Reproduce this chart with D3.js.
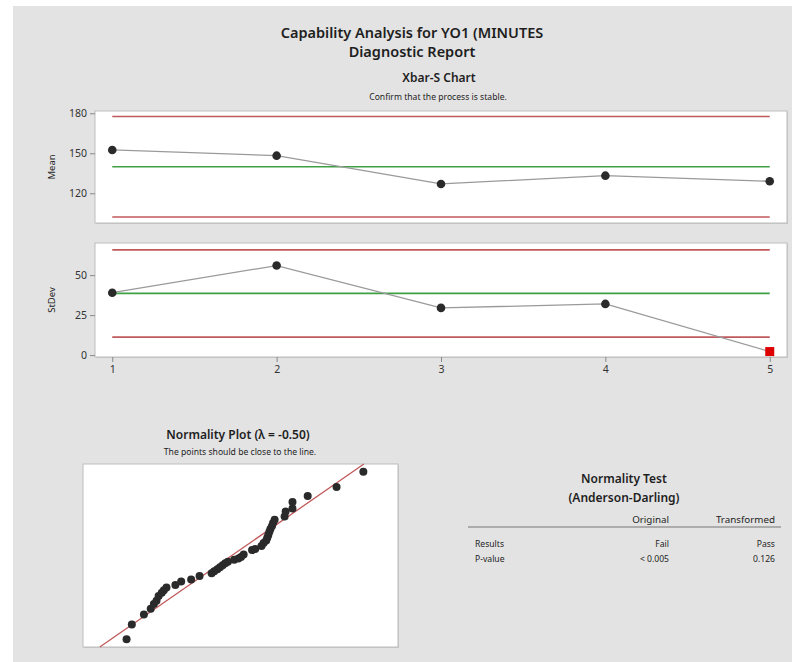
<!DOCTYPE html>
<html lang="en">
<head>
<meta charset="utf-8">
<title>Capability Analysis - Diagnostic Report</title>
<style>
  body { margin: 0; background: #fff; }
  svg { display: block; font-family: "Noto Sans", "Open Sans", sans-serif; }
</style>
<script src="https://d3js.org/d3.v7.min.js"></script>
</head>
<body>
<script>
// ---- data ----
let subgroups = [1, 2, 3, 4, 5]
let means = [152.5, 148.2, 127.0, 133.2, 129.0]
let meanLimits = { ucl: 177.6, cl: 139.9, lcl: 102.2 }
let stdevs = [39.0, 56.0, 29.5, 32.0, 2.2]
let sdLimits = { ucl: 65.8, cl: 38.6, lcl: 11.2 }
let meanTicks = [120, 150, 180]
let sdTicks = [0, 25, 50]

// normality plot: transformed value (standardised) vs normal score
let npX = [-2.17, -2.07, -1.84, -1.71, -1.65, -1.60, -1.56, -1.50, -1.46, -1.41,
           -1.24, -1.13, -0.94, -0.78, -0.55, -0.50, -0.44, -0.39, -0.34, -0.29,
           -0.24, -0.12, -0.04, 0.01, 0.06, 0.22, 0.28, 0.40, 0.44, 0.49,
           0.51, 0.53, 0.55, 0.57, 0.60, 0.62, 0.65, 0.84, 0.86, 0.99,
           0.99, 1.28, 1.83, 2.34]
let npZ = [-2.30, -1.89, -1.62, -1.46, -1.33, -1.24, -1.11, -1.02, -0.95, -0.88,
           -0.81, -0.71, -0.66, -0.56, -0.49, -0.43, -0.38, -0.32, -0.27, -0.21,
           -0.17, -0.12, -0.08, -0.04, 0.03, 0.15, 0.18, 0.26, 0.34, 0.41,
           0.49, 0.56, 0.65, 0.73, 0.81, 0.89, 0.98, 1.07, 1.21, 1.29,
           1.47, 1.63, 1.88, 2.30]
let fitLineX = [-2.68, 2.35]
let fitLineZ = [-2.51, 2.51]

let testCols = ["Original", "Transformed"]
let testRows = [
  ["Results", "Fail", "Pass"],
  ["P-value", "< 0.005", "0.126"]
]

// ---- drawing ----
let width = 792
let height = 662
let red = "#c0595b"
let green = "#3f9f45"
let ink = "#2a2a2a"

let svg = d3.select("body").append("svg")
  .attr("width", width)
  .attr("height", height)

svg.append("rect")
  .attr("x", 13).attr("y", 6)
  .attr("width", width - 13).attr("height", height - 6)
  .attr("fill", "#e3e3e3")

let txt = (x, y, s, size, opts = {}) => {
  return svg.append("text")
    .attr("x", x).attr("y", y)
    .attr("text-anchor", opts.anchor || "middle")
    .attr("font-size", size)
    .attr("font-weight", opts.weight || "normal")
    .attr("fill", opts.fill || "#1e1e1e")
    .text(s)
}

txt(412, 38, "Capability Analysis for YO1 (MINUTES", 14.5, { weight: 600 })
txt(412, 57, "Diagnostic Report", 14.5, { weight: 600 })
txt(439, 82, "Xbar-S Chart", 12, { weight: 600 })
txt(438, 100, "Confirm that the process is stable.", 8.6)

let x = d3.scaleLinear().domain([0.895, 5.105]).range([95, 787])

let panel = (y, vals, lim, ticks, label, lastFlag) => {
  let [y1, y0] = y.range()
  let g = svg.append("g")
  g.append("rect")
    .attr("x", x.range()[0] + 1).attr("y", y0 + 1)
    .attr("width", x.range()[1] - x.range()[0]).attr("height", y1 - y0)
    .attr("fill", "#c9c9c9")
  g.append("rect")
    .attr("x", x.range()[0]).attr("y", y0)
    .attr("width", x.range()[1] - x.range()[0]).attr("height", y1 - y0)
    .attr("fill", "#fff").attr("stroke", "#bdbdbd")

  let limLines = [[lim.ucl, red], [lim.cl, green], [lim.lcl, red]]
  limLines.forEach(([v, c]) => {
    g.append("line")
      .attr("x1", x(subgroups[0])).attr("x2", x(subgroups[subgroups.length - 1]))
      .attr("y1", y(v)).attr("y2", y(v))
      .attr("stroke", c).attr("stroke-width", 1.6)
  })

  g.append("path")
    .datum(vals)
    .attr("fill", "none")
    .attr("stroke", "#9a9a9a")
    .attr("stroke-width", 1.3)
    .attr("d", d3.line().x((d, i) => x(subgroups[i])).y(d => y(d)))

  g.selectAll("circle")
    .data(vals.filter((d, i) => !(lastFlag && i === vals.length - 1)))
    .join("circle")
    .attr("cx", (d, i) => x(subgroups[i]))
    .attr("cy", d => y(d))
    .attr("r", 4.3)
    .attr("fill", ink)

  if (lastFlag) {
    let i = vals.length - 1
    g.append("rect")
      .attr("x", x(subgroups[i]) - 4.5).attr("y", y(vals[i]) - 4.5)
      .attr("width", 9).attr("height", 9)
      .attr("fill", "#dd0000")
  }

  let ax = g.append("g")
    .attr("transform", `translate(${x.range()[0]},0)`)
    .call(d3.axisLeft(y).tickValues(ticks).tickSize(5).tickPadding(3))
  ax.select(".domain").remove()
  ax.selectAll("line").attr("stroke", "#888")
  ax.selectAll("text").attr("font-size", 10.5).attr("fill", "#333")
    .attr("font-family", "Noto Sans, sans-serif")

  svg.append("text")
    .attr("transform", `translate(55,${(y0 + y1) / 2}) rotate(-90)`)
    .attr("text-anchor", "middle")
    .attr("font-size", 9.5)
    .attr("fill", "#1e1e1e")
    .text(label)
}

let yMean = d3.scaleLinear().domain([97.7, 181.7]).range([223, 111])
panel(yMean, means, meanLimits, meanTicks, "Mean", false)

let ySd = d3.scaleLinear().domain([-1.2, 70.1]).range([357, 243])
panel(ySd, stdevs, sdLimits, sdTicks, "StDev", true)

let xAx = svg.append("g")
  .attr("transform", "translate(0,357)")
  .call(d3.axisBottom(x).tickValues(subgroups).tickFormat(d3.format("d")).tickSize(5).tickPadding(4))
xAx.select(".domain").remove()
xAx.selectAll("line").attr("stroke", "#888")
xAx.selectAll("text").attr("font-size", 10.5).attr("fill", "#333")
  .attr("font-family", "Noto Sans, sans-serif")

// ---- normality plot ----
txt(238, 439, "Normality Plot (\u03bb = -0.50)", 12, { weight: 600 })
txt(240, 455, "The points should be close to the line.", 8.6)

let nx = d3.scaleLinear().domain([-3, 3]).range([83, 398])
let nz = d3.scaleLinear().domain([-2.51, 2.51]).range([647, 464])

let ng = svg.append("g")
ng.append("rect")
  .attr("x", 84).attr("y", 465).attr("width", 315).attr("height", 183)
  .attr("fill", "#c9c9c9")
ng.append("rect")
  .attr("x", 83).attr("y", 464).attr("width", 315).attr("height", 183)
  .attr("fill", "#fff").attr("stroke", "#bdbdbd")

ng.append("line")
  .attr("x1", nx(fitLineX[0])).attr("y1", nz(fitLineZ[0]))
  .attr("x2", nx(fitLineX[1])).attr("y2", nz(fitLineZ[1]))
  .attr("stroke", red).attr("stroke-width", 1.3)

ng.selectAll("circle")
  .data(npX)
  .join("circle")
  .attr("cx", d => nx(d))
  .attr("cy", (d, i) => nz(npZ[i]))
  .attr("r", 4)
  .attr("fill", ink)

// ---- normality test table ----
txt(624, 483, "Normality Test", 12, { weight: 600 })
txt(624, 502, "(Anderson-Darling)", 12, { weight: 600 })

let colX = [475, 669, 775]
testCols.forEach((c, i) => txt(colX[i + 1], 523, c, 9.8, { anchor: "end" }))
svg.append("line")
  .attr("x1", 468).attr("x2", 781).attr("y1", 527).attr("y2", 527)
  .attr("stroke", "#9a9a9a").attr("stroke-width", 1.3)
testRows.forEach((r, j) => {
  r.forEach((c, i) => {
    txt(colX[i], 547 + j * 15, c, 8.6, { anchor: i === 0 ? "start" : "end" })
  })
})
</script>
</body>
</html>
